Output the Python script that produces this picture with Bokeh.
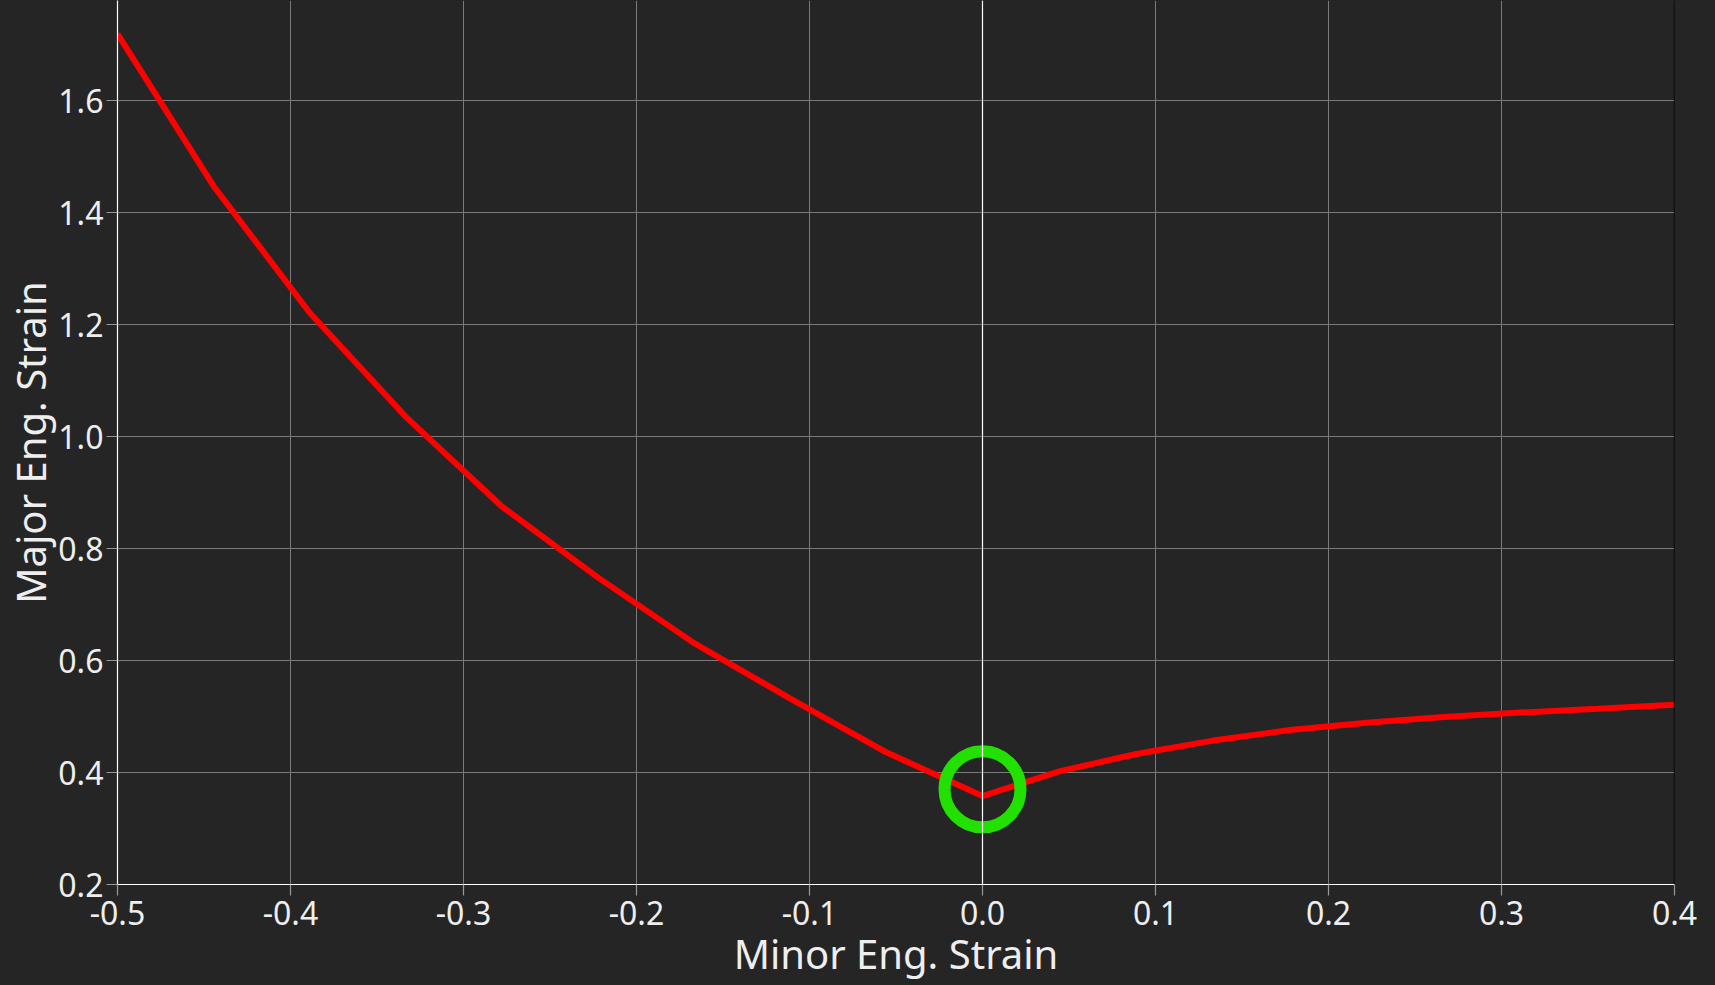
from bokeh.plotting import figure
from bokeh.models import Range1d, FixedTicker, PrintfTickFormatter, Span
from bokeh.embed import file_html
from bokeh.resources import INLINE

# Forming limit curve data
minor_left = [-0.5, -0.4444, -0.3889, -0.3333, -0.2778, -0.2222, -0.1667, -0.1111, -0.0556, 0.0]
major_left = [1.719, 1.447, 1.221, 1.035, 0.875, 0.748, 0.631, 0.532, 0.436, 0.358]
minor_right = [0.0444, 0.0889, 0.1333, 0.1778, 0.2222, 0.2667, 0.3111, 0.3556, 0.4]
major_right = [0.402, 0.433, 0.457, 0.476, 0.489, 0.499, 0.507, 0.514, 0.521]
minor = minor_left + minor_right
major = major_left + major_right

# Highlighted point (plane strain)
marker_x = [0.0]
marker_y = [0.37]

x_ticks = [-0.5, -0.4, -0.3, -0.2, -0.1, 0.0, 0.1, 0.2, 0.3, 0.4]
y_ticks = [0.2, 0.4, 0.6, 0.8, 1.0, 1.2, 1.4, 1.6]

BG = "#252525"
TXT = "#eeeeee"
FONT = "Noto Sans"

p = figure(width=1715, height=985, output_backend="svg", toolbar_location=None,
           x_range=Range1d(-0.5, 0.4), y_range=Range1d(0.2, 1.7786),
           min_border_left=117, min_border_right=41, min_border_top=0, min_border_bottom=101)
p.background_fill_color = BG
p.border_fill_color = BG
p.outline_line_color = None

for ax in (p.xaxis[0], p.yaxis[0]):
    ax.axis_line_color = "white"
    ax.axis_line_width = 1.2
    ax.major_tick_line_color = "#999999"
    ax.major_tick_line_width = 1.2
    ax.major_tick_out = 11
    ax.major_tick_in = 0
    ax.minor_tick_line_color = None
    ax.major_label_text_color = TXT
    ax.major_label_text_font = FONT
    ax.major_label_text_font_size = "32px"
    ax.axis_label_text_color = TXT
    ax.axis_label_text_font = FONT
    ax.axis_label_text_font_size = "40px"
    ax.axis_label_text_font_style = "normal"
    ax.formatter = PrintfTickFormatter(format="%.1f")

p.xaxis[0].ticker = FixedTicker(ticks=x_ticks)
p.yaxis[0].ticker = FixedTicker(ticks=y_ticks)
p.xaxis[0].axis_label = "Minor Eng. Strain"
p.yaxis[0].axis_label = "Major Eng. Strain"
p.xaxis[0].major_label_standoff = 5
p.yaxis[0].major_label_standoff = 3
p.xaxis[0].axis_label_standoff = -2
p.yaxis[0].axis_label_standoff = -3

p.xgrid.grid_line_color = "#7a7a7a"
p.ygrid.grid_line_color = "#7a7a7a"
p.xgrid.grid_line_width = 1
p.ygrid.grid_line_width = 1

p.add_layout(Span(location=0.0, dimension="height", line_color="white", line_width=1.2))
p.add_layout(Span(location=0.4, dimension="height", line_color="black", line_width=1.5))

p.line(minor, major, line_color="#ff0000", line_width=6)
p.scatter(marker_x, marker_y, marker="circle", size=76, fill_color=None,
          line_color="#22e000", line_width=12)

html = file_html(p, INLINE)
style = "<style>html,body{margin:0;padding:0;background:#252525;overflow:hidden;}</style>"
html = html.replace("</head>", style + "</head>", 1)
open("out.html", "w").write(html)
